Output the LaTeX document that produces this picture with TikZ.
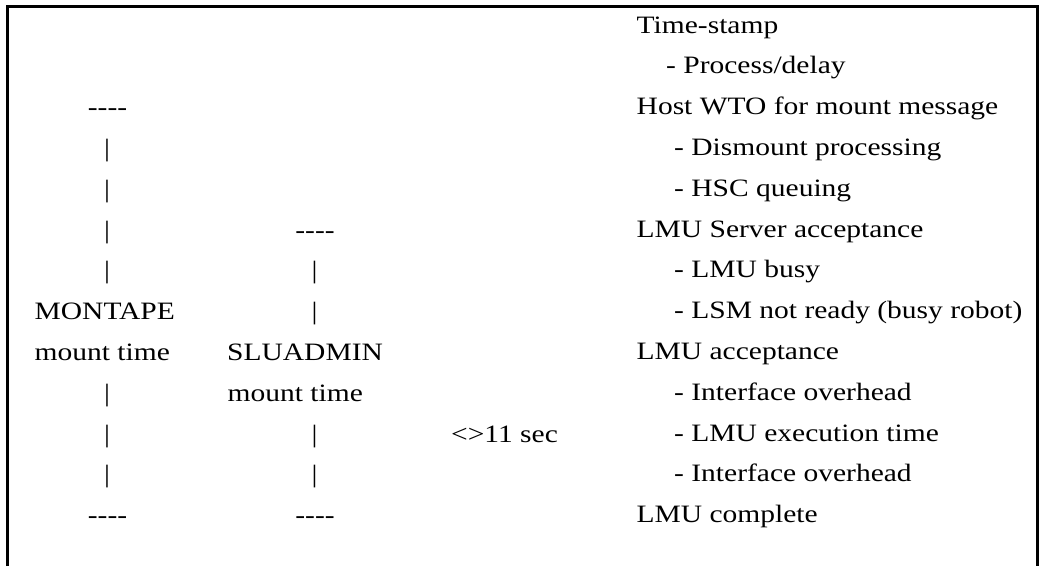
\documentclass[tikz,border=0pt]{standalone}
\usepackage{fontspec}
\setmainfont{Liberation Serif}[FakeStretch=1.18]
\newcommand{\fourdash}{-{}-{}-{}-}
\begin{document}
\begin{tikzpicture}[x=1pt,y=-1pt,
  frame/.style={line width=3pt},
  txt/.style={anchor=base west, inner sep=0pt, font=\fontsize{25}{30}\selectfont},
  ctr/.style={anchor=base, inner sep=0pt, font=\fontsize{25}{30}\selectfont}]
\useasboundingbox (0,0) rectangle (1040,566);
\draw[frame] (7.5,566) -- (7.5,6.5) -- (1037.5,6.5) -- (1037.5,566);
% right column
\node[txt] (r1) at (636.5,33) {Time-stamp};
\node[txt] (r2) at (666,73.8) {- Process/delay};
\node[txt] (r3) at (636.5,114.6) {Host WTO for mount message};
\node[txt] (r4) at (674,155.4) {- Dismount processing};
\node[txt] (r5) at (674,196.2) {- HSC queuing};
\node[txt] (r6) at (636.5,237) {LMU Server acceptance};
\node[txt] (r7) at (674,277.8) {- LMU busy};
\node[txt] (r8) at (674,318.6) {- LSM not ready (busy robot)};
\node[txt] (r9) at (636.5,359.4) {LMU acceptance};
\node[txt] (r10) at (674,400.2) {- Interface overhead};
\node[txt] (r11) at (674,441) {- LMU execution time};
\node[txt] (r12) at (674,481.8) {- Interface overhead};
\node[txt] (r13) at (636.5,522.6) {LMU complete};
% left column (MONTAPE)
\node[ctr] (a3) at (107.5,115.6) {\fourdash};
\node[ctr] (a4) at (107,156.4) {|};
\node[ctr] (a5) at (107,197.2) {|};
\node[ctr] (a6) at (107,238) {|};
\node[ctr] (a7) at (107,278.8) {|};
\node[txt] (a8) at (34.5,319.6) {MONTAPE};
\node[txt] (a9) at (34.5,360.4) {mount time};
\node[ctr] (a10) at (107,401.2) {|};
\node[ctr] (a11) at (107,442) {|};
\node[ctr] (a12) at (107,482.8) {|};
\node[ctr] (a13) at (107.5,523.6) {\fourdash};
% second column (SLUADMIN)
\node[ctr] (b6) at (315,238) {\fourdash};
\node[ctr] (b7) at (314.5,278.8) {|};
\node[ctr] (b8) at (314.5,319.6) {|};
\node[txt] (b9) at (227,360.4) {SLUADMIN};
\node[txt] (b10) at (227.5,401.2) {mount time};
\node[ctr] (b11) at (314.5,442) {|};
\node[ctr] (b12) at (314.5,482.8) {|};
\node[ctr] (b13) at (315,523.6) {\fourdash};
% duration
\node[txt] (d11) at (451,442) {<>11 sec};
\end{tikzpicture}
\end{document}
